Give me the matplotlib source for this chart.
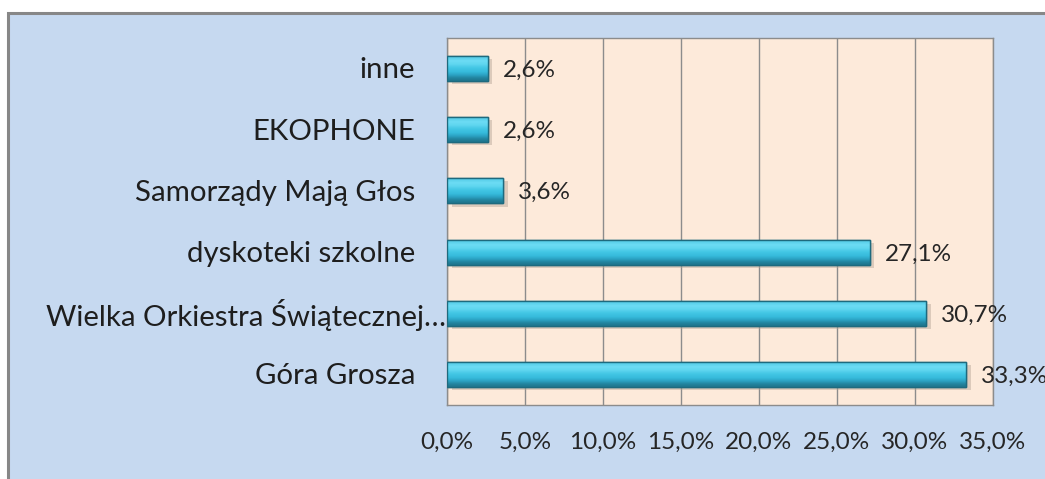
import matplotlib.pyplot as plt
import numpy as np
from matplotlib.patches import Rectangle
from matplotlib.transforms import offset_copy

categories = ["Góra Grosza", "Wielka Orkiestra Świątecznej…", "dyskoteki szkolne",
              "Samorządy Mają Głos", "EKOPHONE", "inne"]
values = [33.3, 30.7, 27.1, 3.6, 2.6, 2.6]
value_labels = ["33,3%", "30,7%", "27,1%", "3,6%", "2,6%", "2,6%"]
xticks = [0, 5, 10, 15, 20, 25, 30, 35]
xtick_labels = ["0,0%", "5,0%", "10,0%", "15,0%", "20,0%", "25,0%", "30,0%", "35,0%"]

plt.rcParams['font.family'] = ['Lato', 'DejaVu Sans']

fig = plt.figure(figsize=(10.45, 4.79), dpi=100)
fig.patch.set_facecolor('white')

# blue chart panel with gray border, running off the right/bottom edge
panel = Rectangle((7.5 / 1045, -0.05), 1.1, (479 - 12.5) / 479 + 0.05,
                  transform=fig.transFigure, facecolor='#C6D9F0',
                  edgecolor='#878787', linewidth=2.2, zorder=-10)
fig.patches.append(panel)

ax = fig.add_axes([447 / 1045, (479 - 405) / 479, 546 / 1045, 367 / 479])
ax.set_facecolor('#FDEADA')

y = np.arange(len(categories))
bar_h = 0.41

# shadow
ax.barh(y - 0.05, values, height=bar_h, left=0.3, color='#B5A596', alpha=0.45,
        zorder=2, linewidth=0)
bars = ax.barh(y, values, height=bar_h, color='#31B3D6', edgecolor='#1E6A7E',
               linewidth=1.0, zorder=3)

# vertical gradient to fake the bevelled 3D look
grad = np.array([0.0, 0.15, 0.35, 0.5, 0.65, 0.85, 1.0]).reshape(-1, 1)
cmap = plt.matplotlib.colors.LinearSegmentedColormap.from_list(
    'bev', ['#1F7890', '#2AA0C0', '#36BADB', '#42C6E4', '#5FD6F0', '#6CDCF4', '#55CBE8'])
for b in bars:
    x0, y0 = b.get_x(), b.get_y()
    w, h = b.get_width(), b.get_height()
    im = ax.imshow(grad, extent=[x0, x0 + w, y0, y0 + h], origin='lower',
                   cmap=cmap, aspect='auto', zorder=3.5, interpolation='bicubic')
    im.set_clip_path(b)
    ax.add_patch(Rectangle((x0, y0), w, h, fill=False, edgecolor='#1E6A7E',
                           linewidth=1.0, zorder=4))

for yi, v, lab in zip(y, values, value_labels):
    ax.text(v + 0.95, yi - 0.03, lab, va='center', ha='left', fontsize=17.5,
            color='#262626', zorder=5, clip_on=False)

ax.set_xlim(0, 35)
ax.set_ylim(-0.5, len(categories) - 0.5)
ax.set_xticks(xticks)
ax.set_xticklabels(xtick_labels, fontsize=17.5, color='#262626')
ax.set_yticks(y)
ax.set_yticklabels([])
ax.tick_params(axis='x', length=0, pad=19)
ax.tick_params(axis='y', length=0)

# category labels (Excel keeps the truncated one flush with the axis)
for yi, cat in zip(y, categories):
    gap = -1 if cat.endswith('…') else -23
    tr = offset_copy(ax.get_yaxis_transform(), fig=fig, x=gap, y=0, units='points')
    ax.text(0, yi - 0.03, cat, transform=tr, ha='right', va='center',
            fontsize=21.2, color='#1E1E1E', clip_on=False)

ax.grid(axis='x', color='#8C8C8C', linewidth=1.0, zorder=1)
ax.set_axisbelow(True)
for s in ax.spines.values():
    s.set_color('#8C8C8C')
    s.set_linewidth(1.0)

fig.savefig('out.png', dpi=100)
